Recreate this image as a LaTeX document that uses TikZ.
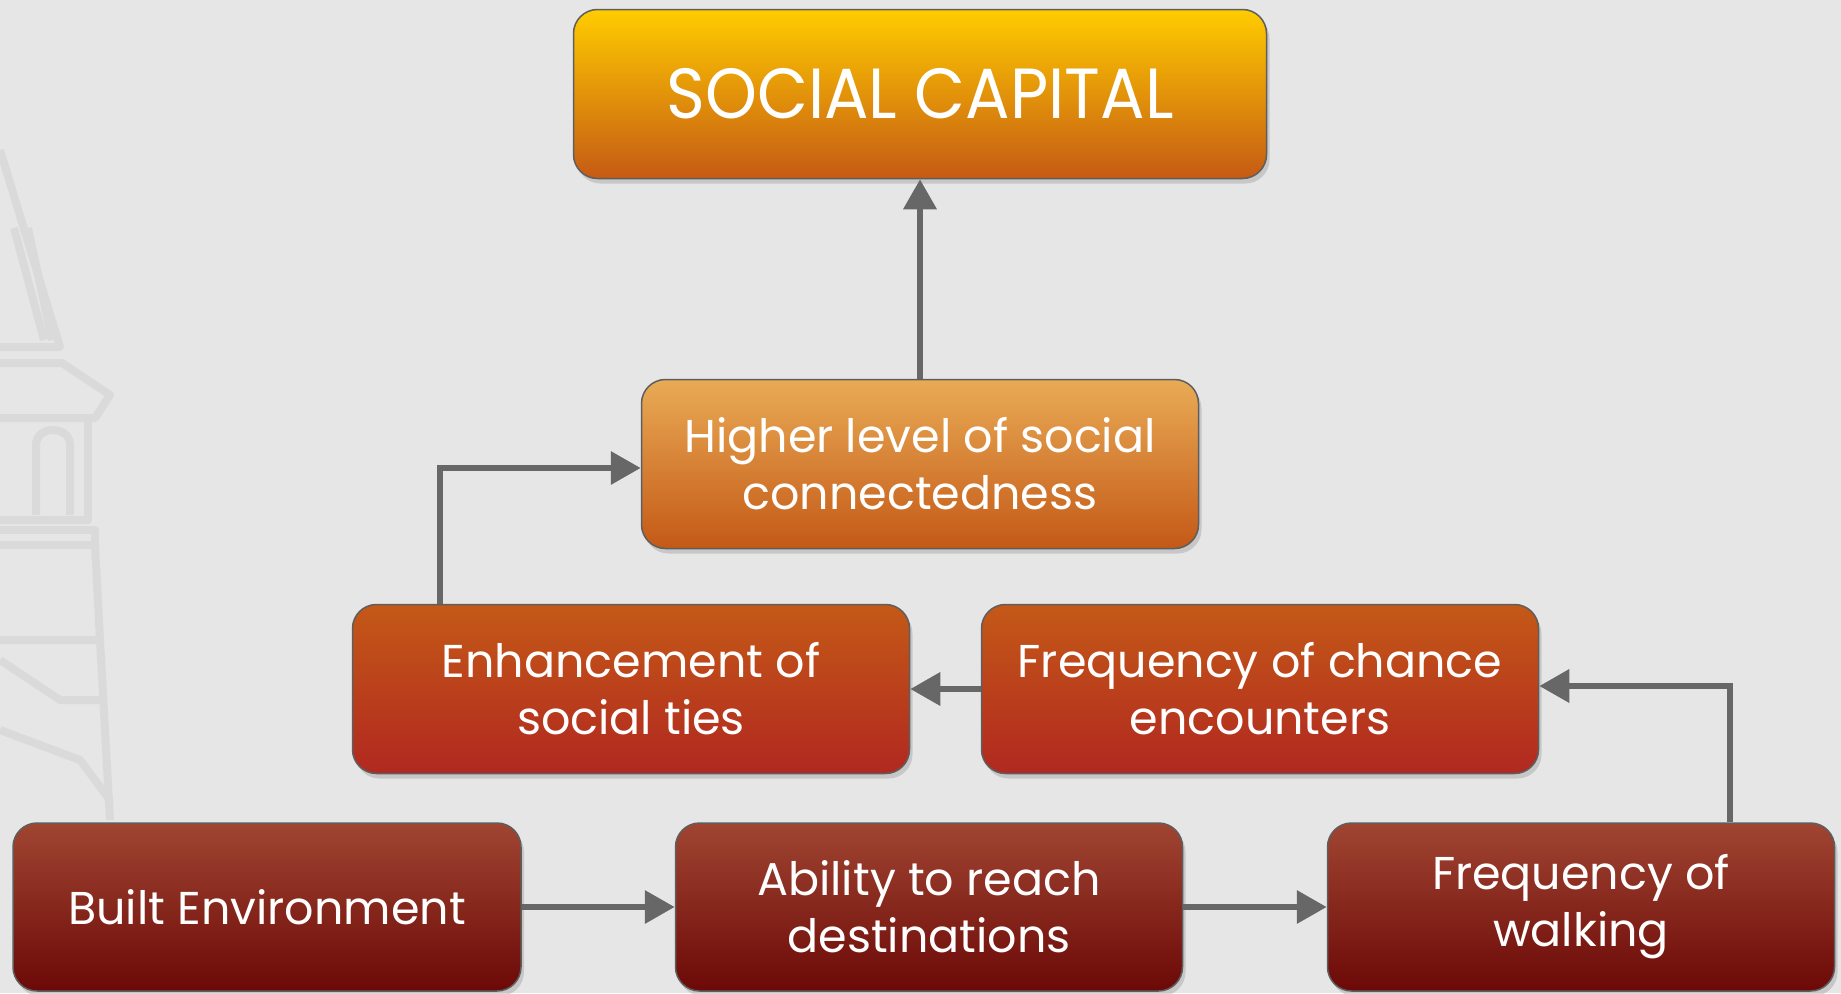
\documentclass[tikz,border=0pt]{standalone}
\usepackage{fontspec}
\setmainfont{Poppins}
\newfontfamily\scfont{Poppins}[FakeStretch=0.93]
\usetikzlibrary{arrows.meta,positioning,shadows}

\definecolor{bggray}{HTML}{E6E6E6}
\definecolor{bldg}{HTML}{DADADA}
\definecolor{boxline}{HTML}{5E5E5E}
\definecolor{arrowgray}{HTML}{676767}
\definecolor{scTop}{HTML}{FFCC00}
\definecolor{scBot}{HTML}{C55A14}
\definecolor{hiTop}{HTML}{E9AB55}
\definecolor{hiBot}{HTML}{C45917}
\definecolor{midTop}{HTML}{C45917}
\definecolor{midBot}{HTML}{B12820}
\definecolor{lowTop}{HTML}{A04532}
\definecolor{lowBot}{HTML}{6C0907}

\begin{document}
\begin{tikzpicture}[x=1pt,y=1pt,
      mybox/.style={
         rectangle,
         rounded corners=24pt,
         draw=boxline,
         line width=1.5pt,
         text=white,
         align=center,
         inner sep=0pt,
         minimum width=557pt,
         minimum height=169pt,
         drop shadow={shadow xshift=3pt,shadow yshift=-5pt,opacity=0.3},
         font=\fontsize{46}{57}\selectfont},
      sctop/.style={mybox,top color=scTop,bottom color=scBot,
         minimum width=693pt,font=\scfont\fontsize{71}{74}\selectfont},
      hibox/.style={mybox,top color=hiTop,bottom color=hiBot},
      midbox/.style={mybox,top color=midTop,bottom color=midBot},
      lowbox/.style={mybox,top color=lowTop,bottom color=lowBot,
         minimum width=507pt,minimum height=168pt},
      myarrow/.style={-{Triangle[length=30pt,width=32pt]},
         draw=arrowgray,line width=6.5pt}
      ]
      \useasboundingbox[fill=bggray] (0,0) rectangle (1841,-993);

      % faint steeple in the background
      \begin{scope}[draw=bldg,line width=8pt,line join=round]
         \draw (0,-150) -- (60,-347) -- (0,-347);
         \draw (14,-228) -- (44,-340);
         \draw (28,-228) -- (52,-340);
         \draw (0,-363) -- (62,-363) -- (110,-395) -- (95,-418) -- (0,-418);
         \draw (88,-418) -- (88,-520) -- (0,-520);
         \draw (36,-515) -- (36,-445) .. controls (36,-425) and (70,-425) .. (70,-445) -- (70,-515);
         \draw (0,-530) -- (95,-530) -- (95,-545) -- (0,-545);
         \draw (95,-545) -- (100,-640) -- (0,-640);
         \draw (0,-660) -- (60,-700) -- (105,-700);
         \draw (0,-730) -- (80,-760) -- (110,-800);
         \draw (100,-640) -- (110,-820);
      \end{scope}

      \node[sctop] (sc) at (920,-94) {SOCIAL CAPITAL};
      \node[hibox] (higher) at (920,-464) {Higher level of social\\connectedness};
      \node[midbox] (ties) at (631,-689) {Enhancement of\\social ties};
      \node[midbox] (chance) at (1260,-689) {Frequency of chance\\encounters};
      \node[lowbox,minimum width=508pt] (built) at (267,-907) {Built Environment};
      \node[lowbox] (reach) at (929,-907) {Ability to reach\\destinations};
      \node[lowbox] (walking) at (1581,-907) {Frequency of\\walking};

    \foreach \i/\j in {% start node/end node
      higher/sc,
      chance/ties,
      built/reach,
      reach/walking}
       \draw [myarrow] (\i) -- (\j);

    \draw[myarrow] ([xshift=-191pt]ties.north) |- ([yshift=-4pt]higher.west);
    \draw[myarrow] ([xshift=149pt]walking.north) |- ([yshift=3pt]chance.east);

    \end{tikzpicture}
\end{document}
